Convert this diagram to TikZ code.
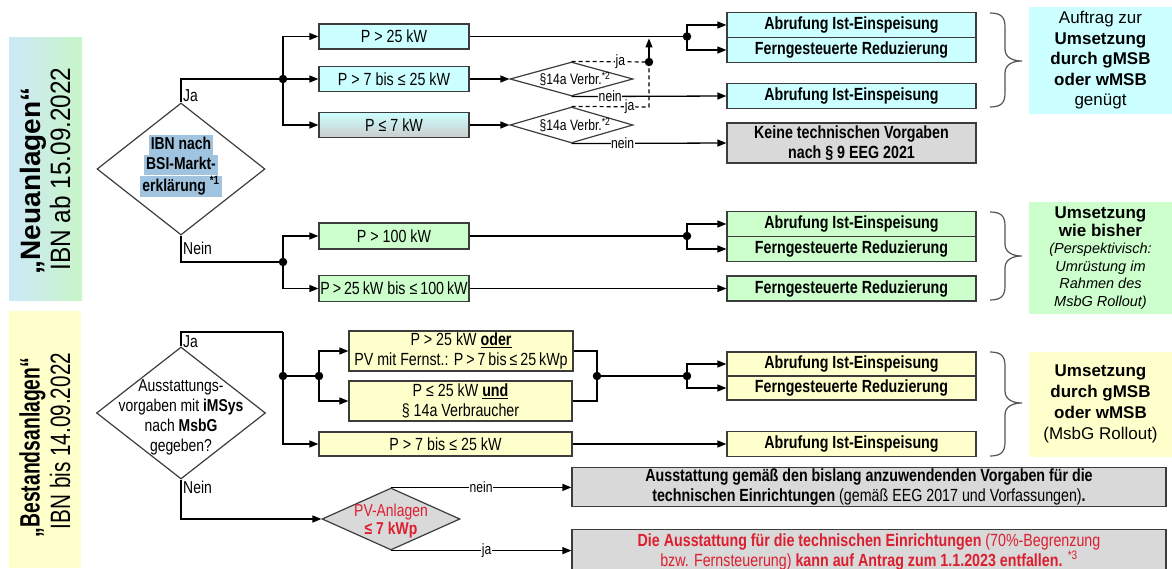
\documentclass[tikz,border=0pt]{standalone}
\usepackage{fontspec}
\usepackage{graphicx}
\setmainfont{Liberation Sans}
\newfontfamily\nar[FakeStretch=0.81]{Liberation Sans}
\usetikzlibrary{arrows.meta,shapes.geometric}
\definecolor{cyf}{HTML}{CCFFFF}
\definecolor{grf}{HTML}{CCFFCC}
\definecolor{yef}{HTML}{FFFFCC}
\definecolor{gyf}{HTML}{D9D9D9}
\definecolor{rdt}{HTML}{DD1E2F}
\definecolor{hlf}{HTML}{A0C4E0}
\definecolor{bdc}{HTML}{3C3C3C}
\definecolor{brc}{HTML}{555555}
\definecolor{bandb}{HTML}{CCE8F8}
\definecolor{bandm}{HTML}{D4D4D4}
\definecolor{bandg}{HTML}{C8F5C8}
\setlength{\fboxsep}{0pt}
\newcommand\mybf{\nar\fontsize{17.6}{20}\selectfont}
\newcommand\mylab{\nar\fontsize{15}{17}\selectfont}
\newcommand\mydia{\nar\fontsize{17.2}{20}\selectfont}
\newcommand\myside{\fontsize{17}{20.5}\selectfont}
\newcommand\hlln[1]{\colorbox{hlf}{\rule[-5.5pt]{0pt}{20pt}\hspace{2pt}#1\hspace{2pt}}}
\newcommand\mybrace[4]{%
  \draw[brc, line width=1.2pt] (#1,#2) .. controls ({#1+11},#2) and ({#1+15},{#2+4}) .. ({#1+15},{#2+14})
   -- ({#1+15},{#3-12}) .. controls ({#1+15},{#3-4}) and ({#1+22},#3) .. ({#1+32},#3)
   .. controls ({#1+22},#3) and ({#1+15},{#3+4}) .. ({#1+15},{#3+12})
   -- ({#1+15},{#4-14}) .. controls ({#1+15},{#4-4}) and ({#1+11},#4) .. (#1,#4);}
\begin{document}
\begin{tikzpicture}[x=1pt,y=-1pt,
 conn/.style={line width=1.3pt},
 arr/.style={line width=1.3pt,-{Triangle[length=9pt,width=7pt]}},
 dsh/.style={line width=1.2pt,dash pattern=on 4pt off 3pt},
 bx/.style={draw=bdc,line width=1.2pt,inner sep=0pt,align=center,font=\mybf},
 dot/.style={circle,fill=black,inner sep=0pt,minimum size=8.5pt},
 lab/.style={fill=white,inner sep=0.5pt,font=\mylab},
 dia/.style={diamond,draw=bdc,line width=1.2pt,inner sep=0pt},
 side/.style={inner sep=0pt,align=center,font=\myside},
 dtxt/.style={inner sep=0pt,align=center,font=\mydia},
]
\useasboundingbox (0,0) rectangle (1172,569);

% left bands
\shade[left color=bandb, middle color=bandm, right color=bandg] (9,38) rectangle (82,300);
\fill[yef] (9,311) rectangle (81,568);
\node[rotate=90, inner sep=0pt, font=\fontsize{28}{30}\selectfont] (neuA) at (33.5,181) {\scalebox{1.0}[1]{\bfseries „Neuanlagen“}};
\node[rotate=90, inner sep=0pt, font=\fontsize{28}{30}\selectfont] (neuB) at (60,169) {\scalebox{0.87}[1]{IBN ab 15.09.2022}};
\node[rotate=90, inner sep=0pt, font=\fontsize{28}{30}\selectfont] (besA) at (32.5,447.5) {\scalebox{0.69}[1]{\bfseries „Bestandsanlagen“}};
\node[rotate=90, inner sep=0pt, font=\fontsize{28}{30}\selectfont] (besB) at (60,441) {\scalebox{0.74}[1]{IBN bis 14.09.2022}};

% diamonds
\node[dia, minimum width=168pt, minimum height=132pt] (D1) at (181,169) {};
\node[dtxt] (D1t) at (181,166) {\hlln{\bfseries IBN nach}\\\hlln{\bfseries BSI-Markt-}\\\hlln{\bfseries erklärung \textsuperscript{*1}}};
\node[dia, minimum width=169pt, minimum height=132pt] (D2) at (181,413) {};
\node[dtxt] (D2t) at (181,417) {Ausstattungs-\\vorgaben mit \textbf{iMSys}\\nach \textbf{MsbG}\\gegeben?};
\node[dia, fill=gyf, minimum width=138pt, minimum height=62pt] (PV) at (391,519) {};
\node[dtxt, text=rdt, font=\nar\fontsize{17.2}{18}\selectfont] (PVt) at (391,521) {PV-Anlagen\\\textbf{≤ 7 kWp}};
\node[dia, minimum width=123pt, minimum height=34pt] (Q1) at (571.5,79) {};
\node[font=\mylab, inner sep=0pt] (Q1t) at (575,79) {§14a Verbr.\textsuperscript{*2}};
\node[dia, minimum width=123pt, minimum height=36pt] (Q2) at (571.5,125) {};
\node[font=\mylab, inner sep=0pt] (Q2t) at (575,125) {§14a Verbr.\textsuperscript{*2}};

% Neuanlagen boxes
\node[bx, fill=cyf, minimum width=150pt, minimum height=25pt] (n1) at (394,36.5) {P > 25 kW};
\node[bx, fill=cyf, minimum width=150pt, minimum height=25pt] (n2) at (394,79) {P > 7 bis ≤ 25 kW};
\node[bx, top color=cyf, bottom color=gyf!85!gray, minimum width=150pt, minimum height=25pt] (n3) at (394,125) {P ≤ 7 kW};
\node[bx, fill=cyf, minimum width=249pt, minimum height=25pt] (r1) at (851.5,25) {\textbf{Abrufung Ist-Einspeisung}};
\node[bx, fill=cyf, minimum width=249pt, minimum height=25pt] (r2) at (851.5,50) {\textbf{Ferngesteuerte Reduzierung}};
\node[bx, fill=cyf, minimum width=249pt, minimum height=25pt] (r3) at (851.5,96) {\textbf{Abrufung Ist-Einspeisung}};
\node[bx, fill=gyf, minimum width=249pt, minimum height=40pt] (r4) at (851.5,143) {\textbf{Keine technischen Vorgaben}\\\textbf{nach § 9 EEG 2021}};

\node[bx, fill=grf, minimum width=150pt, minimum height=26pt] (g1) at (394,236) {P > 100 kW};
\node[bx, fill=grf, minimum width=150pt, minimum height=26pt] (g2) at (394,288.5) {P\,>\,25\,kW bis ≤\,100\,kW};
\node[bx, fill=grf, minimum width=249pt, minimum height=25pt] (gr1) at (851.5,224) {\textbf{Abrufung Ist-Einspeisung}};
\node[bx, fill=grf, minimum width=249pt, minimum height=25pt] (gr2) at (851.5,249) {\textbf{Ferngesteuerte Reduzierung}};
\node[bx, fill=grf, minimum width=249pt, minimum height=25pt] (gr3) at (851.5,288.5) {\textbf{Ferngesteuerte Reduzierung}};

% Bestandsanlagen boxes
\node[bx, fill=yef, minimum width=224pt, minimum height=40pt] (yA) at (461,351) {P > 25 kW \underline{\textbf{oder}}\\PV mit Fernst.: P\,>\,7\,bis\,≤\,25\,kWp};
\node[bx, fill=yef, minimum width=223pt, minimum height=40pt] (yB) at (460.5,401) {P ≤ 25 kW \underline{\textbf{und}}\\§ 14a Verbraucher};
\node[bx, fill=yef, minimum width=253pt, minimum height=24pt] (yC) at (445.5,444) {P > 7 bis ≤ 25 kW};
\node[bx, fill=yef, minimum width=249pt, minimum height=24pt] (yr1) at (851.5,364) {\textbf{Abrufung Ist-Einspeisung}};
\node[bx, fill=yef, minimum width=249pt, minimum height=24pt] (yr2) at (851.5,388) {\textbf{Ferngesteuerte Reduzierung}};
\node[bx, fill=yef, minimum width=249pt, minimum height=25pt] (yr3) at (851.5,444) {\textbf{Abrufung Ist-Einspeisung}};

% bottom boxes
\node[bx, fill=gyf, minimum width=594pt, minimum height=39pt] (b1) at (869,487) {\textbf{Ausstattung gemäß den bislang anzuwendenden Vorgaben für die}\\\textbf{technischen Einrichtungen} (gemäß EEG 2017 und Vorfassungen)\textbf{.}};
\node[bx, fill=gyf, text=rdt, minimum width=594pt, minimum height=44pt] (b2) at (869,551.5) {\textbf{Die Ausstattung für die technischen Einrichtungen} (70\%-Begrenzung\\bzw. Fernsteuerung) \textbf{kann auf Antrag zum 1.1.2023 entfallen.} \textsuperscript{*3}};

% side boxes
\node[side, fill=cyf, minimum width=143pt, minimum height=107pt] (s1) at (1100.5,60.5) {Auftrag zur\\\textbf{Umsetzung}\\\textbf{durch gMSB}\\\textbf{oder wMSB}\\genügt};
\node[side, fill=grf, minimum width=143pt, minimum height=112pt, font=\fontsize{17}{17.5}\selectfont] (s2) at (1100.5,258) {\textbf{Umsetzung}\\\textbf{wie bisher}\\\textit{\fontsize{14.5}{17.5}\selectfont (Perspektivisch:}\\\textit{\fontsize{14.5}{17.5}\selectfont Umrüstung im}\\\textit{\fontsize{14.5}{17.5}\selectfont Rahmen des}\\\textit{\fontsize{14.5}{17.5}\selectfont MsbG Rollout)}};
\node[side, fill=yef, minimum width=143pt, minimum height=105pt, font=\fontsize{17}{21}\selectfont] (s3) at (1100.5,404) {\textbf{Umsetzung}\\\textbf{durch gMSB}\\\textbf{oder wMSB}\\(MsbG Rollout)};

% braces
\mybrace{990}{13}{61}{107}
\mybrace{990}{212}{256}{300}
\mybrace{990}{352}{403}{456}

% coordinates
\coordinate (J1) at (283,79);
\coordinate (J2) at (283,262);
\coordinate (K1) at (687,36.5);
\coordinate (K2) at (687,236);
\coordinate (M1) at (649,62);
\coordinate (V2) at (649,107);
\coordinate (M0) at (649,38.5);
\coordinate (T2) at (283,332);
\coordinate (J3) at (283,376);
\coordinate (J4) at (319,376);
\coordinate (J5) at (597,376);
\coordinate (K3) at (687,376);

% Neuanlagen connectors
\draw[conn] (D1.north) |- (J1);
\draw[arr] (J1) |- (n1.west);
\draw[arr] (J1) -- (n2.west);
\draw[arr] (J1) |- (n3.west);
\draw[conn] (D1.south) |- (J2);
\draw[arr] (J2) |- (g1.west);
\draw[arr] (J2) |- (g2.west);
\node[font=\mydia, anchor=west, inner sep=1pt] (ja1) at (182,96) {Ja};
\node[font=\mydia, anchor=west, inner sep=1pt] (nein1) at (182,248) {Nein};

\draw[conn] (n1.east) -- (K1);
\draw[arr] (K1) |- (r1.west);
\draw[arr] (K1) |- (r2.west);
\draw[arr] (n2.east) -- (Q1.west);
\draw[arr] (n3.east) -- (Q2.west);
\draw[dsh] (Q1.north) -- node[lab, pos=0.63] (ja2) {ja} (M1);
\draw[dsh] (Q2.north) -- node[lab, pos=0.75, yshift=0.5pt] (ja3) {ja} (V2) -- (M1);
\draw[arr] (M1) -- (M0);
\draw[arr] (Q1.south) -- node[lab, pos=0.25] (nein2) {nein} (r3.west);
\draw[arr] (Q2.south) -- node[lab, pos=0.33] (nein3) {nein} (r4.west);

\draw[conn] (g1.east) -- (K2);
\draw[arr] (K2) |- (gr1.west);
\draw[arr] (K2) |- (gr2.west);
\draw[arr] (g2.east) -- (gr3.west);

% Bestand connectors
\draw[conn] (D2.north) |- (T2);
\draw[arr] (T2) |- (yC.west);
\draw[conn] (J3) -- (J4);
\draw[arr] (J4) |- (yA.west);
\draw[arr] (J4) |- (yB.west);
\draw[conn] (yA.east) -| (J5);
\draw[conn] (yB.east) -| (J5);
\draw[conn] (J5) -- (K3);
\draw[arr] (K3) |- (yr1.west);
\draw[arr] (K3) |- (yr2.west);
\draw[arr] (yC.east) -- (yr3.west);
\node[font=\mydia, anchor=west, inner sep=1pt] (ja4) at (182,342) {Ja};
\node[font=\mydia, anchor=west, inner sep=1pt] (nein4) at (182,487) {Nein};
\draw[arr] (D2.south) |- (PV.west);
\draw[arr] (PV.north) -- node[lab, pos=0.5] (nein5) {nein} (PV.north -| b1.west);
\draw[arr] (PV.south) -- node[lab, pos=0.53] (ja5) {ja} (PV.south -| b2.west);

% dots
\foreach \p in {J1,J2,K1,K2,M1,J3,J4,J5,K3} \node[dot] at (\p) {};
\end{tikzpicture}
\end{document}
